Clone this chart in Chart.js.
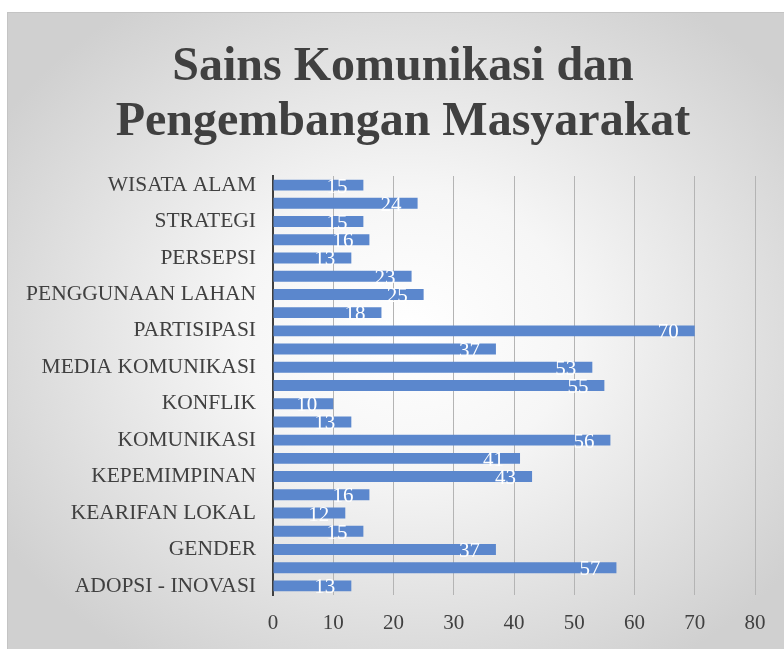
<!DOCTYPE html>
<html>
<head>
<meta charset="utf-8">
<script src="https://cdn.jsdelivr.net/npm/chart.js@4.4.1/dist/chart.umd.min.js"></script>
<style>
  body { margin: 0; background: #ffffff; overflow: hidden; }
  #frame {
    position: absolute; left: 7px; top: 12px; width: 800px; height: 660px;
    border-top: 1px solid #c4c4c4; border-left: 1px solid #c4c4c4;
    background: radial-gradient(ellipse 60% 60% at 50% 48%, #ffffff 0%, #f6f6f6 35%, #d0d0d0 100%);
  }
  #wrap { position: absolute; left: 0; top: 0; width: 784px; height: 649px; }
</style>
</head>
<body>
<div id="frame"></div>
<div id="wrap"><canvas id="chart" width="784" height="649"></canvas></div>
<script>
// categories top to bottom, only every other label is shown in the original
const categories = [
    'WISATA ALAM', '', 'STRATEGI', '', 'PERSEPSI', '', 'PENGGUNAAN LAHAN', '',
    'PARTISIPASI', '', 'MEDIA KOMUNIKASI', '', 'KONFLIK', '', 'KOMUNIKASI', '',
    'KEPEMIMPINAN', '', 'KEARIFAN LOKAL', '', 'GENDER', '', 'ADOPSI - INOVASI'
];
const counts = [15, 24, 15, 16, 13, 23, 25, 18, 70, 37, 53, 55, 10, 13, 56, 41, 43, 16, 12, 15, 37, 57, 13];
const xTicks = [0, 10, 20, 30, 40, 50, 60, 70, 80];
const titleLines = ['Sains Komunikasi dan', 'Pengembangan Masyarakat'];

const serif = "'Liberation Serif', 'Times New Roman', serif";
const textGray = '#404040';

// two line title, centred on the whole chart box like the original
const chartTitle = {
    id: 'chartTitle',
    afterDraw(chart) {
        const ctx = chart.ctx;
        ctx.save();
        ctx.fillStyle = textGray;
        ctx.font = 'bold 48px ' + serif;
        ctx.textAlign = 'center';
        ctx.textBaseline = 'alphabetic';
        titleLines.forEach((line, i) => {
            ctx.fillText(line, 403, 80 + i * 55);
        });
        ctx.restore();
    }
};

// white value labels at the inner end of each bar
const barLabels = {
    id: 'barLabels',
    afterDatasetsDraw(chart) {
        const ctx = chart.ctx;
        const meta = chart.getDatasetMeta(0);
        ctx.save();
        ctx.fillStyle = '#ffffff';
        ctx.font = '21px ' + serif;
        ctx.textAlign = 'right';
        ctx.textBaseline = 'middle';
        meta.data.forEach((bar, i) => {
            ctx.fillText(String(counts[i]), bar.x - 16, bar.y + 2);
        });
        ctx.restore();
    }
};

new Chart(document.getElementById('chart'), {
    type: 'bar',
    data: {
        labels: categories,
        datasets: [{
            data: counts,
            backgroundColor: '#5b87cd',
            barPercentage: 0.6,
            categoryPercentage: 1
        }]
    },
    plugins: [barLabels, chartTitle],
    options: {
        indexAxis: 'y',
        responsive: false,
        animation: false,
        layout: { padding: { left: 0, right: 29, top: 176, bottom: 0 } },
        plugins: {
            legend: { display: false },
            tooltip: { enabled: false },
            title: { display: false }
        },
        scales: {
            x: {
                min: 0,
                max: 80,
                afterBuildTicks(scale) {
                    scale.ticks = xTicks.map(v => ({ value: v }));
                },
                afterFit(scale) { scale.height = 54; },
                grid: { color: '#b4b4b4', lineWidth: 1, drawTicks: false },
                border: { display: false },
                ticks: { color: textGray, font: { family: serif, size: 21 }, padding: 16 }
            },
            y: {
                afterFit(scale) { scale.width = 273; },
                grid: { display: false, drawTicks: false },
                border: { display: true, color: textGray, width: 2 },
                ticks: {
                    autoSkip: false,
                    color: textGray,
                    font: { family: serif, size: 21.5 },
                    padding: 17
                }
            }
        }
    }
});
</script>
</body>
</html>
